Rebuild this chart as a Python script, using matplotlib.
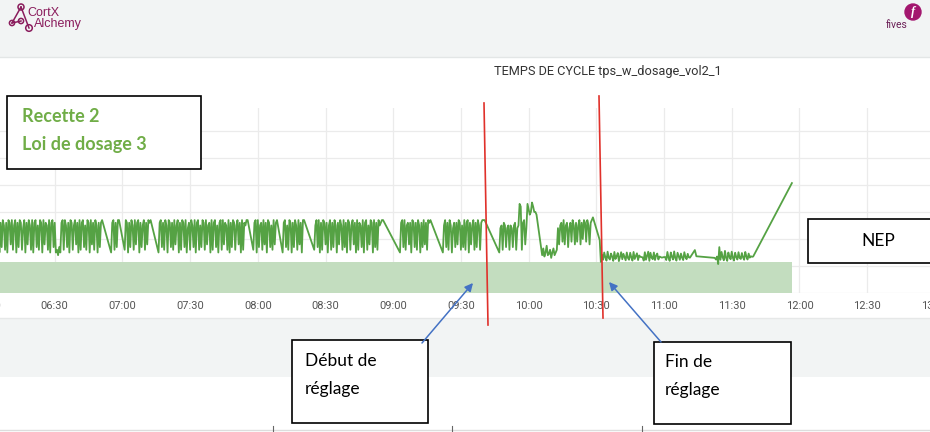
import pandas as pd
import matplotlib.pyplot as plt
import matplotlib.dates as mdates
from matplotlib.patches import Rectangle, Circle, FancyArrowPatch

plt.rcParams['font.family'] = ['Roboto', 'DejaVu Sans']

# --- data: cycle time samples (one every 30 s inside each segment) ---
seg_starts = ["06:04:00", "06:55:00", "07:01:00", "07:16:00", "07:58:00", "08:11:00",
              "08:25:00", "09:03:00", "09:22:00", "09:47:00", "10:06:00", "10:31:30",
              "10:32:00", "10:50:00", "10:59:00", "11:01:00", "11:13:40", "11:14:20",
              "11:22:30", "11:23:00", "11:56:40"]
seg_a = [16, 26, 27, 15, 26, 17, 27, 25, 16, 26, 15, 27, 26, 18, 27, 16, 25, 27, 15, 26,
         17, 27, 26, 16, 24, 27, 15, 26, 18, 27, 25, 16, 27, 15, 26, 27, 17, 25, 16, 27,
         26, 15, 27, 18, 26, 25, 16, 27, 15, 26, 27, 17, 26, 15, 16, 14, 17, 15, 26, 27,
         16, 27, 25, 17, 26, 15, 27, 26, 16, 25, 27, 18, 26, 15, 27, 16, 26, 27, 17, 25,
         16, 27, 26, 15, 27, 18, 26, 16, 27, 25, 15, 26, 17, 26, 27]
seg_b = [15, 26, 27, 16, 26, 17, 27, 27]
seg_c = [16, 27, 26, 15, 26, 17, 27, 25, 16, 27, 18, 26, 27, 15, 26, 17, 25, 27, 16, 26,
         18, 27, 26, 27]
seg_d = [15, 26, 27, 17, 26, 16, 27, 25, 15, 27, 26, 17, 26, 16, 27, 18, 25, 27, 15, 26,
         16, 27, 26, 17, 27, 15, 24, 26, 16, 27, 25, 17, 27, 15, 26, 27, 16, 25, 17, 27,
         26, 16, 27, 18, 25, 26, 15, 27, 16, 26, 27, 17, 25, 15, 26, 27, 16, 27, 18, 26,
         25, 16, 27, 15, 26, 17, 27, 26, 16, 25, 27, 18, 26, 15, 27, 16, 26, 25, 27, 27]
seg_e = [16, 26, 27, 15, 27, 17, 25, 26, 16, 27, 18, 26, 15, 27, 26, 17, 25, 16, 27, 18,
         26, 27]
seg_f = [15, 26, 27, 17, 25, 16, 27, 26, 15, 26, 17, 27, 25, 16, 27, 18, 26, 15, 27, 27]
seg_g = [16, 25, 27, 17, 27, 15, 26, 16, 27, 26, 18, 26, 15, 25, 27, 16, 26, 17, 27, 25,
         15, 26, 18, 27, 25, 16, 27, 17, 26, 15, 27, 26, 16, 25, 27, 18, 26, 15, 27, 16,
         26, 25, 17, 27, 15, 26, 27, 16, 25, 18, 27, 26, 15, 27, 17, 26, 16, 27, 25, 26,
         27, 27]
seg_h = [15, 26, 27, 17, 27, 16, 25, 26, 18, 26, 15, 27, 26, 17, 26, 16, 27, 25, 15, 26,
         17, 27, 18, 26, 16, 27, 26, 27]
seg_i = [15, 25, 27, 17, 26, 16, 27, 25, 15, 24, 26, 17, 26, 18, 27, 26, 16, 25, 17, 27,
         16, 26, 27, 15, 26, 18, 25, 27, 16, 26, 17, 27, 25, 16, 26, 27, 27, 27]
seg_j = [15, 24, 25, 16, 26, 25, 17, 24, 25, 16, 25, 24, 17, 25, 26, 16, 24, 25, 33, 32,
         16, 26, 27, 18, 24, 33, 31, 29, 30, 33.5, 32, 30, 30, 29]
seg_k = [14, 16.5, 13.5, 15, 17.5, 14, 14.5, 16, 13, 15, 16.5, 14, 15, 16,
         24, 18, 25, 26, 19, 27, 18, 25, 26, 17, 24, 26, 19, 27, 25, 18, 26, 19, 25, 27,
         18, 26, 20, 27, 26, 19, 27, 25, 18, 26, 27, 28]
seg_l = [19.6]
seg_m = [11.5, 14.2, 12.3, 15.0, 13.2, 12.0, 15.3, 13.0, 12.4, 14.6, 13.5, 11.9, 15.2,
         12.6, 13.6, 14.8, 11.8, 13.4, 15.1, 12.5, 14.5, 13.3, 12.1, 15.0, 13.0, 12.3,
         14.9, 13.2, 12.0, 15.2, 12.6, 13.7, 14.7, 12.2, 13.9, 13.4]
seg_n = [13.3, 13.2, 12.0, 15.1, 12.3, 13.8, 15.3, 11.9, 14.9, 13.1, 12.5, 15.0, 12.2,
         13.9, 14.6, 12.4, 13.5, 13.3]
seg_o = [13.1, 13.2, 13.3, 13.3]
seg_p = [12.2, 15.2, 13.0, 11.9, 15.0, 13.4, 12.4, 15.4, 12.9, 12.0, 14.9, 13.6, 12.3,
         14.6, 13.1, 12.2, 15.1, 13.3, 12.5, 14.5, 13.2, 13.1]
seg_q = [15.9]
seg_r = [13.6]
seg_s = [13.0]
seg_t = [12.4, 13.5, 10.7, 17.0, 12.3, 15.2, 13.2, 12.1, 15.6, 13.0, 11.9, 15.0, 13.4,
         12.5, 15.3, 13.1, 12.0, 14.9, 13.3, 12.4, 15.1, 13.0, 12.6, 14.8, 13.2, 12.3,
         15.2, 13.5, 12.4, 14.6, 13.1, 13.6, 13.4, 13.5]
seg_u = [40.7]
seg_values = [seg_a, seg_b, seg_c, seg_d, seg_e, seg_f, seg_g, seg_h, seg_i, seg_j, seg_k,
              seg_l, seg_m, seg_n, seg_o, seg_p, seg_q, seg_r, seg_s, seg_t, seg_u]
sample_seconds = 30
band_level = 11.5

day = pd.Timestamp("2021-03-01")
times, vals = [], []
for start, values in zip(seg_starts, seg_values):
    t0 = day + pd.Timedelta(start)
    for i, v in enumerate(values):
        times.append(t0 + pd.Timedelta(seconds=i * sample_seconds))
        vals.append(v)

W, H = 930, 432
fig = plt.figure(figsize=(W / 100, H / 100), dpi=100)
fig.patch.set_facecolor("white")

# background (dashboard frame)
bg = fig.add_axes([0, 0, 1, 1], zorder=0)
bg.set_xlim(0, W)
bg.set_ylim(H, 0)
bg.axis("off")
bg.add_patch(Rectangle((0, 0), W, 57, color="#f2f4f4", lw=0))
bg.plot([0, W], [57, 57], color="#e3e6e6", lw=1)
bg.add_patch(Rectangle((0, 318), W, 59, color="#f2f4f4", lw=0))
bg.plot([0, W], [318, 318], color="#e6e8e8", lw=1)
bg.plot([0, W], [430, 430], color="#dddddd", lw=1)
for xt in [273, 452, 642]:
    bg.plot([xt, xt], [426, 432], color="#666666", lw=0.8)

# chart
ax = fig.add_axes([-24.28 / W, 139 / H, 970.4 / W, 185 / H], zorder=1)
ax.set_facecolor("white")
ax.fill_between([times[0], times[-1]], 0, band_level, color="#c3ddbf", lw=0, zorder=2)
ax.plot(times, vals, color="#55a244", lw=1.3, zorder=3)
ax.set_xlim(day + pd.Timedelta("05:55:00"), day + pd.Timedelta("13:05:00"))
ax.set_ylim(0, 68.5)
ax.set_yticks(range(0, 70, 10))
ax.xaxis.set_major_locator(mdates.MinuteLocator(byminute=[0, 30]))
ax.xaxis.set_major_formatter(mdates.DateFormatter("%H:%M"))
ax.grid(color="#ebebeb", lw=0.9, zorder=0)
ax.set_axisbelow(True)
for s in ax.spines.values():
    s.set_visible(False)
ax.tick_params(axis="x", length=0, pad=6, labelsize=8, labelcolor="#555555")
ax.tick_params(axis="y", length=0, labelleft=False)

# overlay annotations (pixel coordinates)
ov = fig.add_axes([0, 0, 1, 1], zorder=5)
ov.set_xlim(0, W)
ov.set_ylim(H, 0)
ov.axis("off")
ov.patch.set_alpha(0)

ov.text(608, 72, "TEMPS DE CYCLE tps_w_dosage_vol2_1", ha="center", va="center",
        fontsize=9.2, color="#333333")

# CortX Alchemy logo
purple = "#8a1c5c"
ov.plot([21, 12], [7, 23], color=purple, lw=1.1)
ov.plot([21, 29], [7, 28], color=purple, lw=1.1)
ov.plot([12, 21], [23, 21], color=purple, lw=1.1)
for cx, cy, r in [(21, 7, 3), (12, 23, 2.6), (21, 21, 2.6), (29, 28, 3.3)]:
    ov.add_patch(Circle((cx, cy), r, facecolor="#f2f4f4", edgecolor=purple, lw=1.1))
ov.text(27, 13, "CortX", fontsize=9, color=purple, va="center", family="Liberation Sans")
ov.text(34, 24, "Alchemy", fontsize=9, color=purple, va="center", family="Liberation Sans")

# fives logo
ov.add_patch(Circle((913, 12), 8, color="#a3166e"))
ov.text(913, 12, "f", fontsize=9, color="white", ha="center", va="center",
        style="italic", weight="bold", family="Liberation Serif")
ov.text(897, 25, "fives", fontsize=7.5, color="#6b1f56", ha="center", va="center")

# red markers
red = "#e0312b"
ov.plot([484, 488], [103, 325], color=red, lw=1.2)
ov.plot([599, 603], [96, 318], color=red, lw=1.2)

# text boxes
green = "#70ad47"
box_font = ["Lato", "DejaVu Sans"]
ov.add_patch(Rectangle((7, 96), 194, 73, facecolor="white", edgecolor="black", lw=1.2))
ov.text(22, 122, "Recette 2", fontsize=13, weight="bold", color=green, va="baseline",
        family=box_font)
ov.text(22, 150, "Loi de dosage 3", fontsize=13, weight="bold", color=green, va="baseline",
        family=box_font)

ov.add_patch(Rectangle((808, 219), 130, 44, facecolor="white", edgecolor="black", lw=1.2))
ov.text(878, 241, "NEP", fontsize=12.5, ha="center", va="center", family=box_font)

ov.add_patch(Rectangle((292, 340), 136, 83, facecolor="white", edgecolor="black", lw=1.2))
ov.text(305, 366, "Début de", fontsize=12.5, va="baseline", family=box_font)
ov.text(305, 394, "réglage", fontsize=12.5, va="baseline", family=box_font)

ov.add_patch(Rectangle((654, 342), 137, 82, facecolor="white", edgecolor="black", lw=1.2))
ov.text(665, 367, "Fin de", fontsize=12.5, va="baseline", family=box_font)
ov.text(665, 395, "réglage", fontsize=12.5, va="baseline", family=box_font)

# arrows
blue = "#4472c4"
for (x0, y0), (x1, y1) in [((422, 343), (473, 283)), ((661, 342), (609, 282))]:
    ov.add_patch(FancyArrowPatch((x0, y0), (x1, y1), arrowstyle="-|>", mutation_scale=12,
                                 color=blue, lw=1.1, shrinkA=0, shrinkB=0))

fig.savefig("out.png", dpi=100)
